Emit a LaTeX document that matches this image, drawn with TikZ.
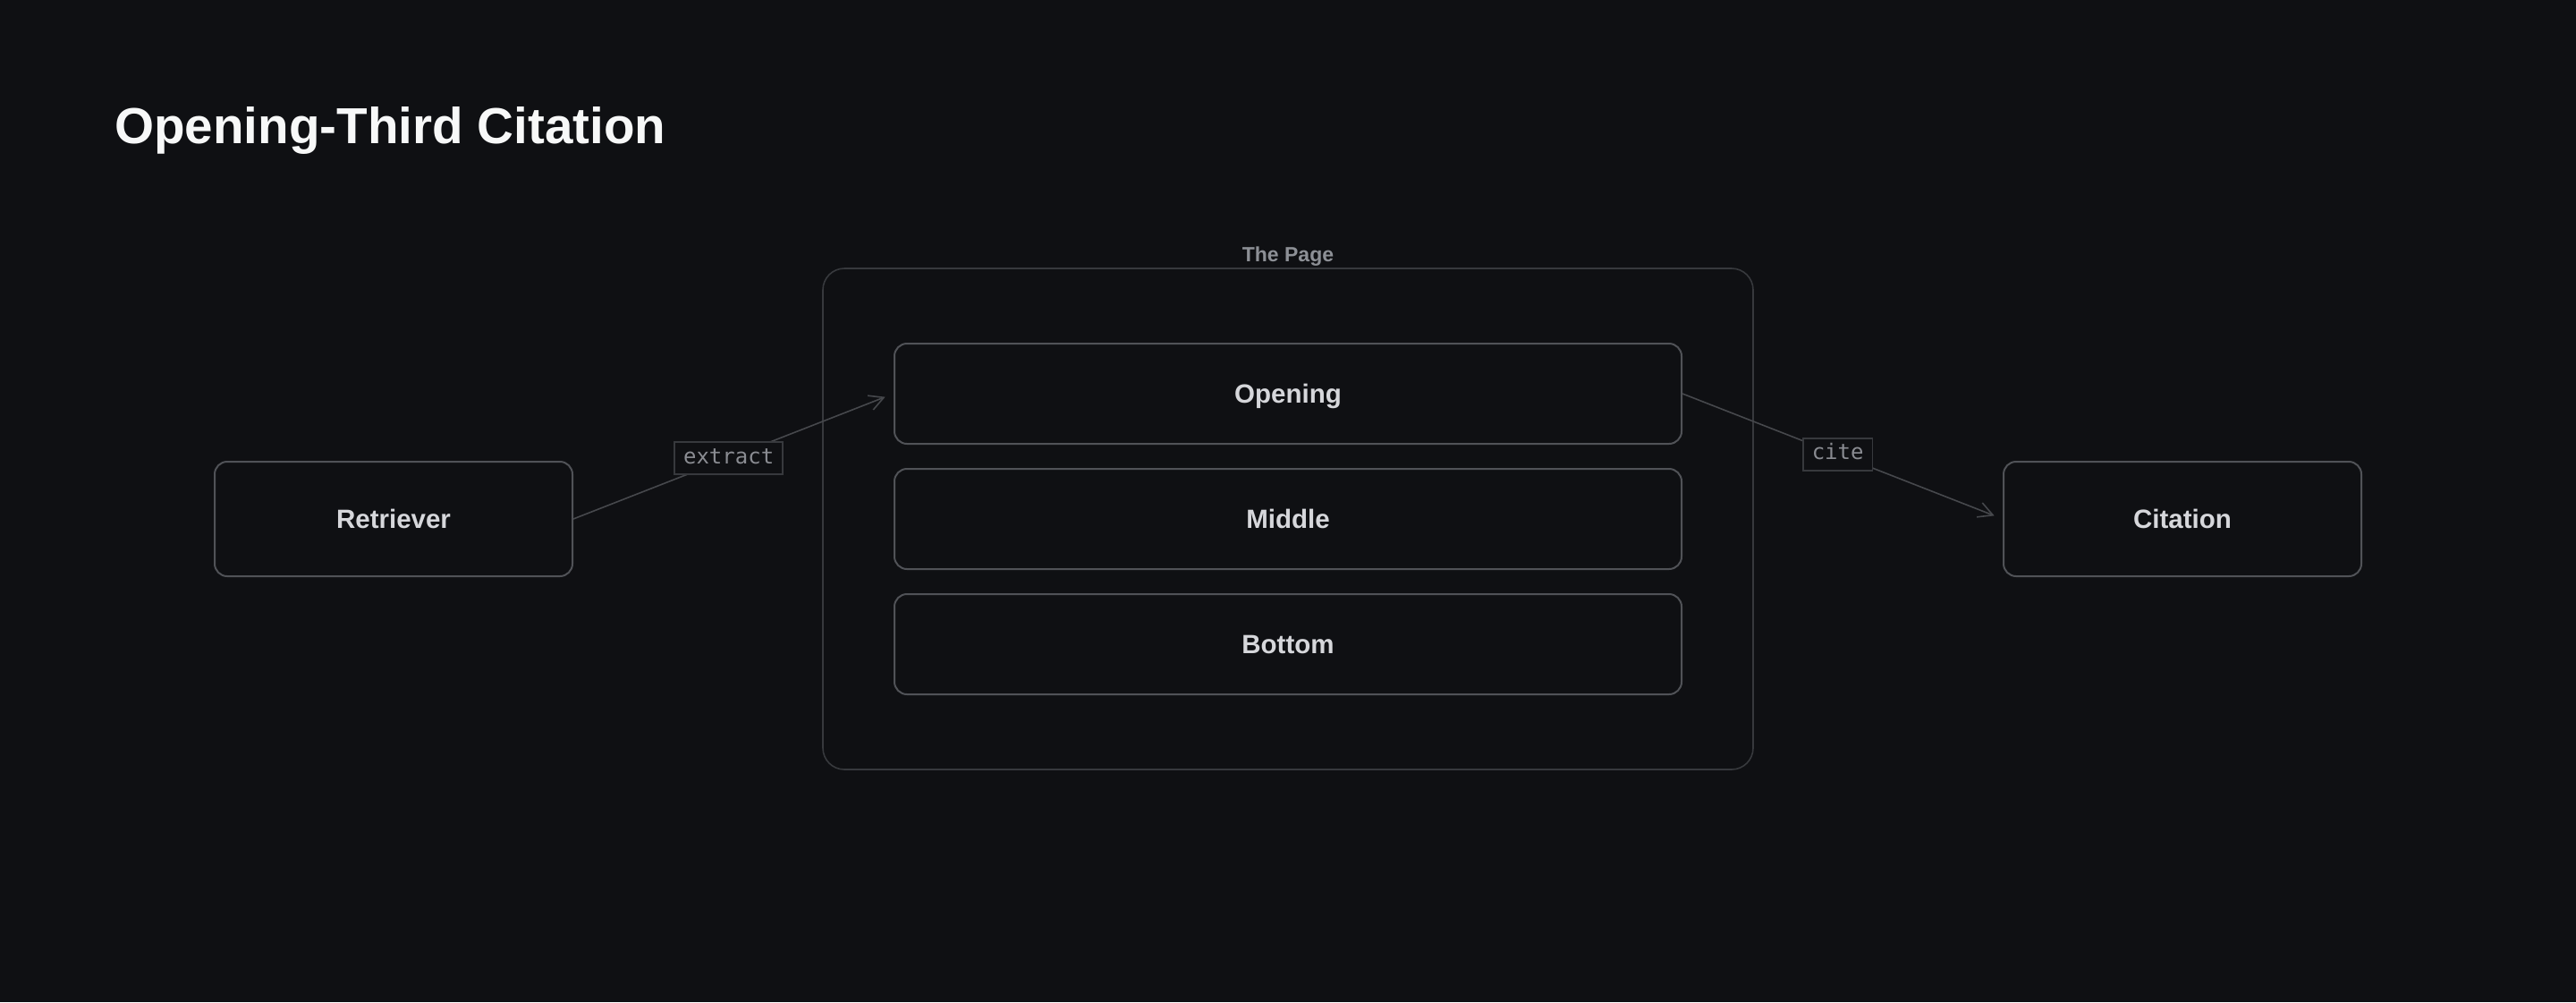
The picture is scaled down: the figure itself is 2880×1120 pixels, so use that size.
\documentclass[tikz,border=0pt]{standalone}
\usepackage{fontspec}
\setmainfont{Liberation Sans}
\setmonofont{DejaVu Sans Mono}
\usetikzlibrary{arrows.meta}
\definecolor{bg}{HTML}{0F1013}
\definecolor{boxline}{HTML}{505257}
\definecolor{outerline}{HTML}{37393D}
\definecolor{connline}{HTML}{46484C}
\definecolor{lblline}{HTML}{37393D}
\definecolor{lbltext}{HTML}{8A8C92}
\definecolor{boxtext}{HTML}{D6D7DB}
\definecolor{titletext}{HTML}{F7F8F8}
\definecolor{grouptext}{HTML}{8D9096}
\tikzset{
  stagebox/.style={draw=boxline, line width=2pt, rounded corners=14pt, fill=bg,
    text=boxtext, font=\fontsize{29.5}{34}\selectfont\bfseries,
    text height=21pt, text depth=0pt, inner sep=0pt},
  groupbox/.style={draw=outerline, line width=1.6pt, rounded corners=24pt, fill=bg, inner sep=0pt},
  conn/.style={draw=connline, line width=1.6pt, -{Straight Barb[length=16pt,width=17pt,line width=1.6pt]}, shorten >=10pt},
  lbl/.style={draw=lblline, line width=1.5pt, fill=bg, text=lbltext,
    font=\ttfamily\fontsize{24}{28}\selectfont, inner xsep=10pt, inner ysep=0pt,
    minimum height=36pt, text height=17pt, text depth=5pt},
}
\begin{document}
\begin{tikzpicture}[x=1pt,y=-1pt]
\fill[bg] (0,0) rectangle (2880,1120);
\useasboundingbox (0,0) rectangle (2880,1120);

\node[anchor=base west, inner sep=0pt, text=titletext, font=\fontsize{56.6}{64}\selectfont\bfseries] (title) at (128,160) {Opening-Third Citation};

\node[groupbox, minimum width=1040pt, minimum height=560pt] (page) at (1440,580) {};
\node[anchor=base, inner sep=0pt, text=grouptext, font=\fontsize{23}{28}\selectfont\bfseries] (pagelbl) at (1440,292) {The Page};

\node[stagebox, minimum width=880pt, minimum height=112pt] (open) at (1440,440) {Opening};
\node[stagebox, minimum width=880pt, minimum height=112pt] (mid) at (1440,580) {Middle};
\node[stagebox, minimum width=880pt, minimum height=112pt] (bot) at (1440,720) {Bottom};

\node[stagebox, minimum width=400pt, minimum height=128pt] (ret) at (440,580) {Retriever};
\node[stagebox, minimum width=400pt, minimum height=128pt] (cit) at (2440,580) {Citation};

\draw[conn] (ret.east) -- (open.west) node[lbl, pos=0.485] (lx) {extract};
\draw[conn] (open.east) -- (cit.west) node[lbl, pos=0.485] (lc) {cite};
\end{tikzpicture}
\end{document}
